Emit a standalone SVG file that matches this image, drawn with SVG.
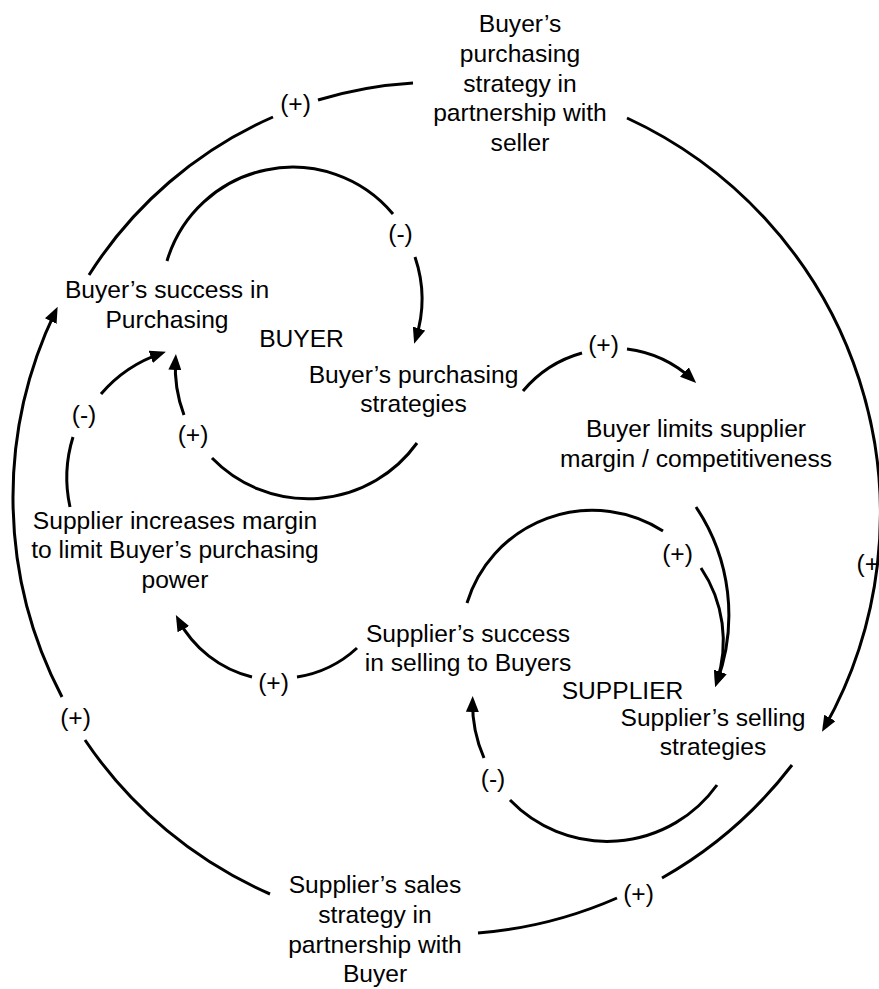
<svg xmlns="http://www.w3.org/2000/svg" width="879" height="989" viewBox="0 0 879 989">
<style>
text{font-family:"Liberation Sans",Arial,sans-serif;font-size:24.6px;fill:#000;text-anchor:middle}
.c{fill:none;stroke:#000;stroke-width:3}
.a{marker-end:url(#ah)}
</style>
<defs>
<marker id="ah" markerUnits="userSpaceOnUse" viewBox="0 0 16 13" markerWidth="16" markerHeight="13" refX="11" refY="6.5" orient="auto">
<path d="M0,0 L16,6.5 L0,13 z" fill="#000"/>
</marker>
</defs>
<rect width="879" height="989" fill="#fff"/>
<g id="connectors">
<path class="c" d="M 89 275 A 415 415 0 0 1 273 117"/>
<path class="c" d="M 318 100 A 415 415 0 0 1 413 83"/>
<path class="c a" d="M 627 118 A 436 436 0 0 1 824.5 727.5"/>
<path class="c" d="M 792 765 A 432 432 0 0 1 662 878"/>
<path class="c" d="M 617 898 A 432 432 0 0 1 478 933"/>
<path class="c" d="M 270 894 A 430 430 0 0 1 85 740"/>
<path class="c a" d="M 62 697 A 430 430 0 0 1 55.5 311.2"/>
<path class="c" d="M 167 261 A 131 131 0 0 1 393 214"/>
<path class="c a" d="M 415 257 A 131 131 0 0 1 415.7 339"/>
<path class="c" d="M 417 443 A 134 134 0 0 1 212 458"/>
<path class="c a" d="M 184 415 A 134 134 0 0 1 175.6 359"/>
<path class="c" d="M 70 507 A 137 137 0 0 1 73 437"/>
<path class="c a" d="M 101 394 A 137 137 0 0 1 161.2 353.4"/>
<path class="c" d="M 523 391 A 118 118 0 0 1 582 353"/>
<path class="c a" d="M 627 349 A 118 118 0 0 1 692.5 379.5"/>
<path class="c" d="M 467 603 A 131 131 0 0 1 663 531"/>
<path class="c a" d="M 701 568 A 131 131 0 0 1 716.7 682.3"/>
<path class="c a" d="M 696 507 A 194 194 0 0 1 716.8 682.4"/>
<path class="c" d="M 357 648 A 114 114 0 0 1 297 677"/>
<path class="c a" d="M 252 677 A 114 114 0 0 1 178.2 619.5"/>
<path class="c" d="M 717 785 A 135 135 0 0 1 510 800"/>
<path class="c a" d="M 484 758 A 135 135 0 0 1 472.6 701"/>
</g>
<g id="labels">
<text x="295.5" y="112">(+)</text>
<text x="400.5" y="242">(-)</text>
<text x="603.5" y="353">(+)</text>
<text x="84" y="423">(-)</text>
<text x="193" y="443">(+)</text>
<text x="677.5" y="562">(+)</text>
<text x="856.5" y="572" style="text-anchor:start">(+</text>
<text x="273.5" y="691">(+)</text>
<text x="75.5" y="726">(+)</text>
<text x="493" y="787">(-)</text>
<text x="638.5" y="902">(+)</text>
</g>
<g id="node-buyer-partnership">
<text x="520" y="32">Buyer’s</text>
<text x="520" y="62">purchasing</text>
<text x="520" y="91.5">strategy in</text>
<text x="520" y="121">partnership with</text>
<text x="520" y="151">seller</text>
</g>
<g id="node-buyer-success">
<text x="167" y="298">Buyer’s success in</text>
<text x="167" y="328">Purchasing</text>
</g>
<g id="node-buyer-label">
<text x="301.5" y="347">BUYER</text>
</g>
<g id="node-buyer-strategies">
<text x="413.5" y="383">Buyer’s purchasing</text>
<text x="413.5" y="412">strategies</text>
</g>
<g id="node-buyer-limits">
<text x="696" y="437">Buyer limits supplier</text>
<text x="696" y="467">margin / competitiveness</text>
</g>
<g id="node-supplier-margin">
<text x="175" y="529">Supplier increases margin</text>
<text x="175" y="558">to limit Buyer’s purchasing</text>
<text x="175" y="588">power</text>
</g>
<g id="node-supplier-success">
<text x="468" y="642">Supplier’s success</text>
<text x="468" y="671">in selling to Buyers</text>
</g>
<g id="node-supplier-label">
<text x="622.5" y="699">SUPPLIER</text>
</g>
<g id="node-supplier-strategies">
<text x="713" y="726">Supplier’s selling</text>
<text x="713" y="755">strategies</text>
</g>
<g id="node-supplier-partnership">
<text x="375" y="893">Supplier’s sales</text>
<text x="375" y="923">strategy in</text>
<text x="375" y="953">partnership with</text>
<text x="375" y="982">Buyer</text>
</g>
</svg>
